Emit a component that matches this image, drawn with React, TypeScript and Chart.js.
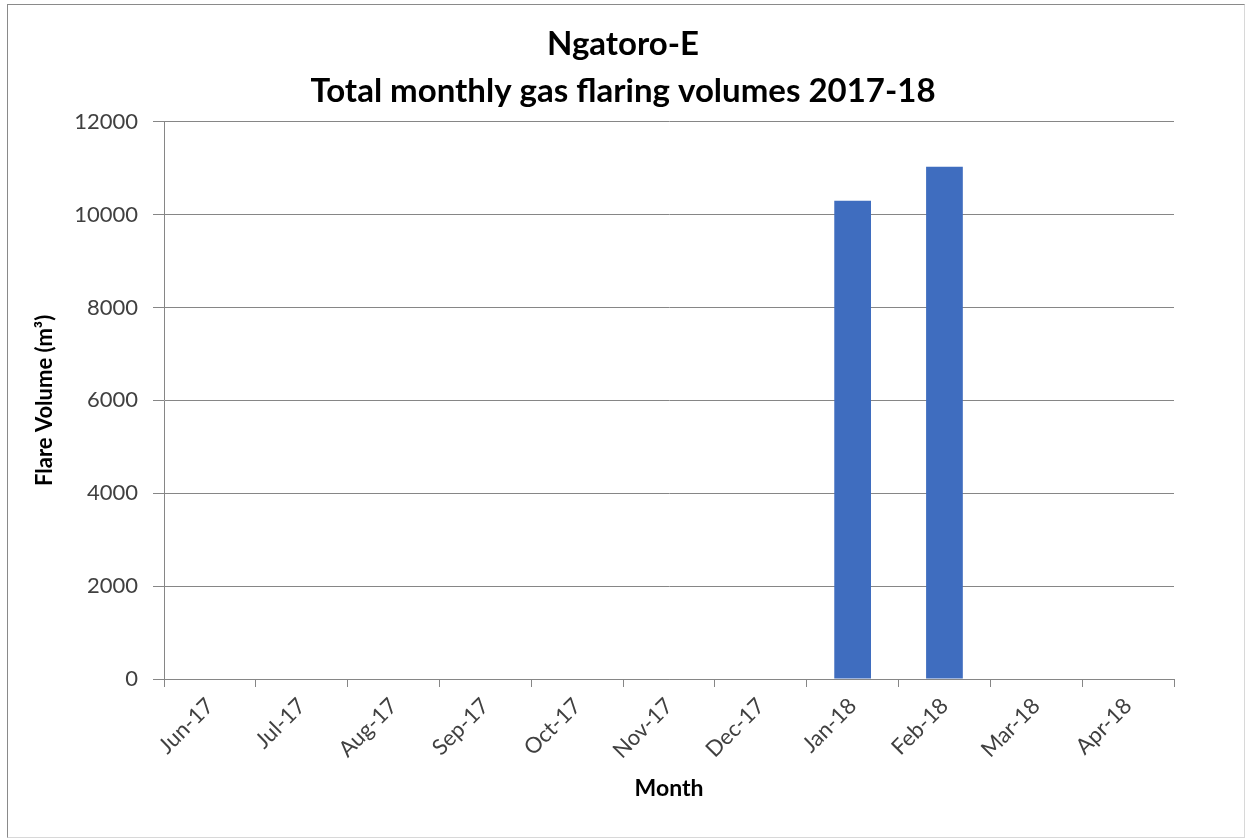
import React, { useEffect, useRef } from "react";
import { Chart, registerables } from "chart.js";

Chart.register(...registerables);

const categories = [
  "Jun-17", "Jul-17", "Aug-17", "Sep-17", "Oct-17", "Nov-17",
  "Dec-17", "Jan-18", "Feb-18", "Mar-18", "Apr-18",
];
const flareVolumes = [0, 0, 0, 0, 0, 0, 0, 10300, 11030, 0, 0];
const titleLines = ["Ngatoro-E", "Total monthly gas flaring volumes 2017-18"];
const yTitle = "Flare Volume (m³)";
const xTitle = "Month";

export default function App() {
  const ref = useRef<HTMLCanvasElement | null>(null);

  useEffect(() => {
    if (!ref.current) return;
    const font = "Lato";
    const chart = new Chart(ref.current, {
      type: "bar",
      data: {
        labels: categories,
        datasets: [
          {
            data: flareVolumes,
            backgroundColor: "#3F6DBF",
            borderWidth: 0,
            barPercentage: 0.4,
            categoryPercentage: 1,
            yAxisID: "y",
          },
        ],
      },
      options: {
        animation: false,
        responsive: false,
        devicePixelRatio: 1,
        layout: { padding: { left: 0, right: 0, top: 0, bottom: 0 } },
        plugins: {
          legend: { display: false },
          tooltip: { enabled: false },
          title: {
            display: true,
            text: titleLines,
            color: "#000000",
            font: { family: font, size: 33, weight: "bold", lineHeight: 1.42 },
            padding: { top: 21, bottom: 7 },
          },
        },
        scales: {
          x: {
            offset: true,
            grid: {
              display: true,
              offset: true,
              drawOnChartArea: false,
              drawTicks: true,
              tickLength: 8,
              color: "#868686",
            },
            border: { display: true, color: "#868686", width: 1 },
            ticks: {
              minRotation: 45,
              maxRotation: 45,
              autoSkip: false,
              color: "#404040",
              padding: 6,
              font: { family: font, size: 22 },
            },
            title: {
              display: true,
              text: xTitle,
              color: "#000000",
              font: { family: font, size: 23, weight: "bold" },
              padding: { top: 37, bottom: 37 },
            },
            afterFit: (scale: any) => {
              scale.height = 160;
            },
          },
          y: {
            min: 0,
            max: 12000,
            ticks: {
              stepSize: 2000,
              color: "#404040",
              padding: 15,
              font: { family: font, size: 22 },
              callback: (v: any) => String(v),
            },
            grid: {
              color: "#868686",
              tickLength: 11,
              drawTicks: true,
            },
            border: { display: true, color: "#868686", width: 1 },
            title: {
              display: true,
              text: yTitle,
              color: "#000000",
              font: { family: font, size: 22, weight: "bold" },
              padding: { top: 32, bottom: 32 },
            },
            afterFit: (scale: any) => {
              scale.width = 164;
            },
          },
          yRight: {
            position: "right",
            display: true,
            min: 0,
            max: 12000,
            grid: { display: false, drawTicks: false },
            border: { display: false },
            ticks: { display: false },
            afterFit: (scale: any) => {
              scale.width = 72;
            },
          },
        },
      },
    });
    return () => chart.destroy();
  }, []);

  return (
    <div style={{ position: "absolute", left: 0, top: 0, width: 1246, height: 839, background: "#ffffff" }}>
      <div
        style={{
          position: "absolute",
          left: 7,
          top: 4,
          width: 1238,
          height: 834,
          boxSizing: "border-box",
          borderTop: "1px solid #8a8a8a",
          borderLeft: "1px solid #8a8a8a",
          borderRight: "1px solid #d8d8d8",
          borderBottom: "1px solid #d8d8d8",
        }}
      />
      <canvas
        ref={ref}
        width={1246}
        height={839}
        style={{ position: "absolute", left: 0, top: 0, width: 1246, height: 839 }}
      />
    </div>
  );
}
